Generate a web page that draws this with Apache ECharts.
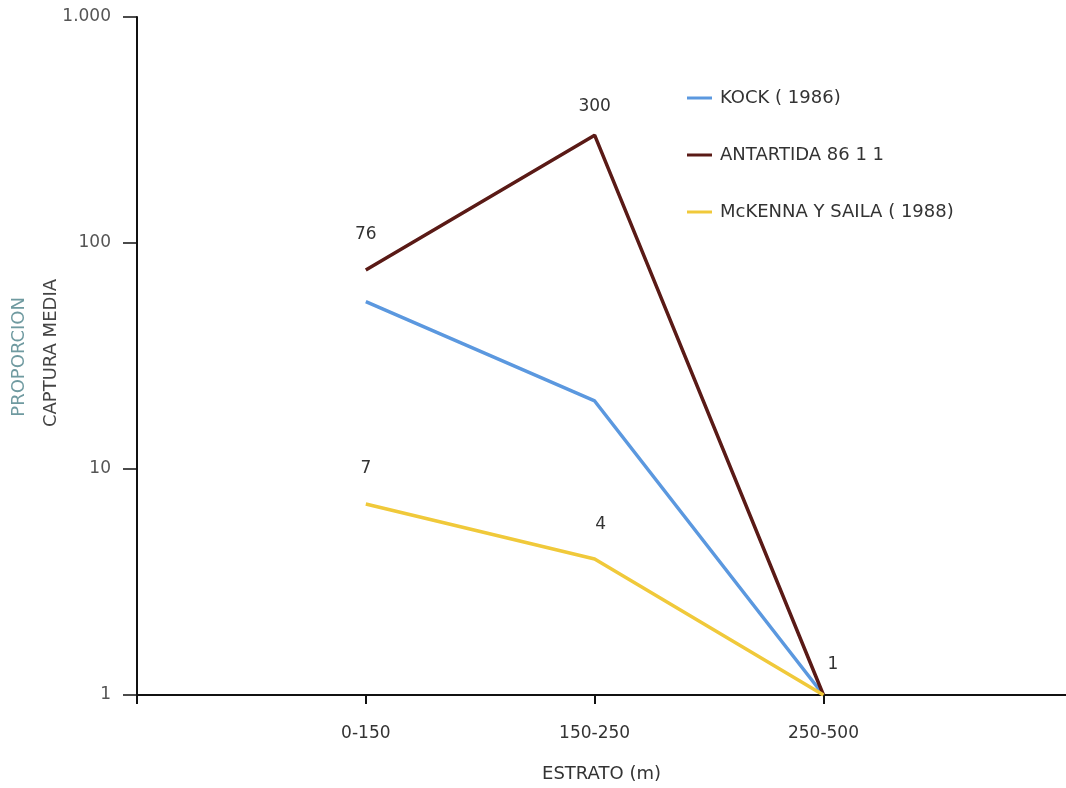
<!DOCTYPE html>
<html><head><meta charset="utf-8">
<script src="https://cdn.jsdelivr.net/npm/echarts@6/dist/echarts.min.js"></script>
<style>html,body{margin:0;padding:0;background:#fff}#c{width:1066px;height:788px}</style>
</head><body><div id="c"></div>
<script>
const categories = ['0-150', '150-250', '250-500'];
const kock = [55, 20, 1];
const antartida = [76, 300, 1];
const mckenna = [7, 4, 1];
const yTicks = [1, 10, 100, 1000];
const seriesNames = ['KOCK ( 1986)', 'ANTARTIDA 86 1 1', 'McKENNA Y SAILA ( 1988)'];

const FONT = 'DejaVu Sans';
const chart = echarts.init(document.getElementById('c'));
function pts(arr){ return arr.map((v,i)=>[i+1, v]); }
function labelled(arr, cfg){
  return arr.map((v,i)=>{
    const c = cfg[i];
    const item = {value:[i+1, v]};
    if (c) item.label = Object.assign({show:true, formatter:String(v), color:'#333', fontSize:17, fontFamily:FONT}, c);
    return item;
  });
}
chart.setOption({
  animation:false,
  backgroundColor:'#fff',
  grid:{left:137, right:0, top:17, bottom:92},
  legend:{
    orient:'vertical', left:682, top:84, itemGap:39, itemWidth:25, itemHeight:3, itemStyle:{borderWidth:0},
    icon:'rect',
    textStyle:{color:'#333', fontSize:18, fontFamily:FONT, padding:[0,0,0,3]},
    data:seriesNames
  },
  xAxis:{
    type:'value', min:0, max:4.06,
    axisLine:{lineStyle:{color:'#111', width:2}},
    axisTick:{show:true, length:9, lineStyle:{color:'#111', width:2}, customValues:[0,1,2,3]},
    axisLabel:{customValues:[1,2,3], formatter:v=>categories[Math.round(v)-1]||'', color:'#333', fontSize:17, fontFamily:FONT, margin:30},
    splitLine:{show:false},
    name:'ESTRATO (m)', nameLocation:'middle', nameGap:70,
    nameTextStyle:{color:'#333', fontSize:18, fontFamily:FONT}
  },
  yAxis:{
    type:'log', logBase:10, min:1, max:1000,
    axisLine:{show:true, lineStyle:{color:'#111', width:2}},
    axisTick:{show:true, length:14, lineStyle:{color:'#111', width:1.5}},
    axisLabel:{color:'#555', fontSize:17, fontFamily:FONT, margin:26,
      formatter:v=>v>=1000 ? String(v).replace(/\B(?=(\d{3})+(?!\d))/g,'.') : String(v)},
    splitLine:{show:false},
    minorTick:{show:false}
  },
  graphic:[
    {type:'text', left:10, top:297, rotation:Math.PI/2, style:{text:'PROPORCION', fill:'#6f9aa0', fontSize:18, fontFamily:FONT}},
    {type:'text', left:42, top:279, rotation:Math.PI/2, style:{text:'CAPTURA MEDIA', fill:'#444', fontSize:18, fontFamily:FONT}}
  ],
  series:[
    {name:seriesNames[0], type:'line', data:pts(kock), symbol:'circle', symbolSize:0.1, showSymbol:true,
     lineStyle:{color:'#5b98df', width:3.5}, itemStyle:{color:'#5b98df'}},
    {name:seriesNames[1], type:'line', symbol:'circle', symbolSize:0.1, showSymbol:true,
     data:labelled(antartida, [{position:'top', distance:27},{position:'top', distance:20},{position:'right', distance:4, offset:[0,-30]}]),
     lineStyle:{color:'#5a1a16', width:3.5}, itemStyle:{color:'#5a1a16'}},
    {name:seriesNames[2], type:'line', symbol:'circle', symbolSize:0.1, showSymbol:true,
     data:labelled(mckenna, [{position:'top', distance:27},{position:'top', distance:26, offset:[6,0]}, null]),
     lineStyle:{color:'#f0c93a', width:3.5}, itemStyle:{color:'#f0c93a'}}
  ]
});
</script></body></html>
